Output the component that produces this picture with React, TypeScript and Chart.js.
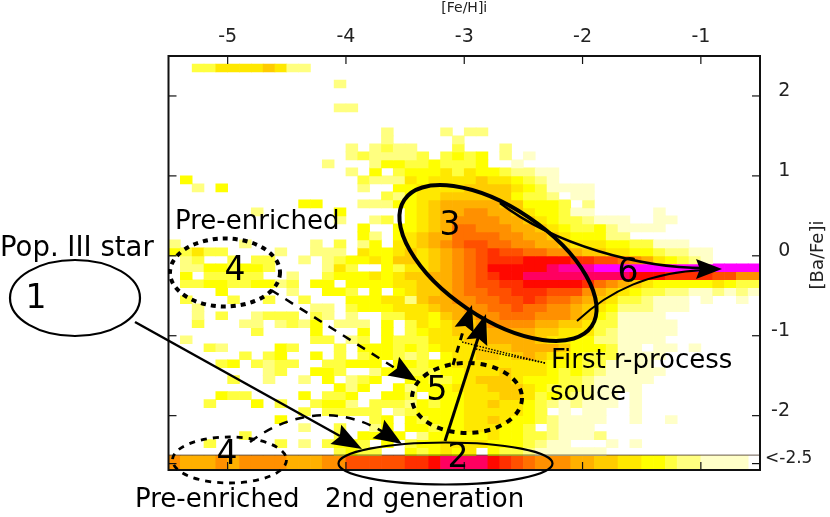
import React, { useEffect, useRef } from "react";
import { Chart, registerables } from "chart.js";

Chart.register(...registerables);

const FONT = '"DejaVu Sans", sans-serif';

// colour levels of the map, 0 = empty cell
const levelColors = ["#ffffff","#ffffc8","#ffff80","#ffff40","#ffff00","#ffe800","#ffcc00","#ffb000","#ff9000","#ff7000","#ff5000","#ff3000","#ff0800","#ff0060","#ff00a0","#ff00ff"];

const xTickValues = [-5, -4, -3, -2, -1];
const yTickValues = [-2.6, -2, -1, 0, 1, 2];
const yTickLabels: Record<string, string> = { "-2.6": "<-2.5", "-2": " -2", "-1": " -1", "0": "\u2002\u20090", "1": "\u2002\u20091", "2": "\u2002\u20092" };

const xBinStart = -5.5;
const binWidth = 0.1;
const yTop = 2.5;
const overflowBottom = -2.68;

// one string per 0.1 dex [Ba/Fe] row from +2.5 down, one hex level per 0.1 dex [Fe/H] column; last row is the "<-2.5" band
const heatRows = [
"0000000000 0000000000 0000000000 0000000000 0000000000",
"0033555565 2200000000 0000000000 0000000000 0000000000",
"0000000000 0000000000 0000000000 0000000000 0000000000",
"0000000000 0000200000 0000000000 0000000000 0000000000",
"0000000000 0000000000 0000000000 0000000000 0000000000",
"0000000000 0000000000 0000000000 0000000000 0000000000",
"0000000000 0000220000 0000000000 0000000000 0000000000",
"0000000000 0000000000 0000000000 0000000000 0000000000",
"0000000000 0000000000 0000000000 0000000000 0000000000",
"0000000000 0000000020 0002022000 0000000000 0000000000",
"0000000000 0000000020 0000200000 0000000000 0000000000",
"0000000000 0000020232 2000300020 0000000000 0000000000",
"0000000000 0000023222 2303434020 1000000000 0000000000",
"0000000000 0002000244 3343334001 0000000000 0000000000",
"0000000000 0000020403 4445354432 2110000000 0000000000",
"0400000000 0000003222 5455556554 3210000000 0000000000",
"0020400000 0000002004 4555566665 4311110000 0000000000",
"0000000000 0000000032 4556666664 3320110000 0000000000",
"0000000000 0440002224 4567777766 4443020000 0000000000",
"0000000200 0000400000 4567788776 5443110000 0100000000",
"0000000000 0000200230 4567888877 6543321110 0110000000",
"0000000000 0000004004 4567998887 7654334211 1100000000",
"0000000000 0000004204 5677999988 7765444220 0000000000",
"2000002000 0020302405 56789aa998 8776555443 3111000000",
"4353300002 0022205445 656789abaa 9988766554 4322110000",
"0230030330 0202344546 656789abbb ccccbbaa98 7543210000",
"0224434430 0002530043 556789accc ccdeeeffff ffffffffff",
"0403333300 2003444545 667789abcc dddddddddc ccbbbbaa88",
"0334433442 3044044445 566789aabb cccccb9876 5444445433",
"0000400000 2004430404 5667899aab bbaaa87654 3322112121",
"0300030030 0300044455 26778899aa ba99876533 2111010010",
"0020000000 0022034445 556778899a 9988765422 2111000000",
"0020300233 3032020033 5546778899 9888764311 1100000000",
"0030002202 3240222040 3545667888 8776653311 1110000000",
"0000000300 0040004040 3455666777 7665553211 1110000000",
"0200000000 0033023043 3355566777 7655442211 1100000000",
"0003200004 3000304443 4345556667 7776444311 0110100000",
"0000003034 0040303443 2304556656 7655433311 1100000000",
"0000340323 3003344404 4344555555 5544433111 1000000000",
"0000000023 0044300244 3334455565 5543432111 1100000000",
"0000030020 0204023400 4433456665 4443321111 1000000000",
"0000000000 0000424004 2444555666 5433321111 0000000000",
"0000433000 0403340044 3044455566 5343221101 0000000000",
"0003000403 0034420333 2434455655 4321211101 0000000000",
"0000000000 0303333302 3444455555 4301011001 0000000000",
"0000000004 0000000340 4344455654 4321111001 0010000000",
"0000000000 0200300240 4434455544 3021110000 0000000000",
"0000003000 0000304434 0244444544 3321112000 0000000000",
"0003000003 0203443040 3445555444 3211000101 0000000000",
"0000000000 0000343300 4345450433 2111111000 0000000000",
"8777878888 7778 8aaaaa bbcddddcba 9888776655 4432211110",
];

const round2 = (v: number) => Number(v.toFixed(2));

function buildDatasets() {
  return heatRows.map((row, r) => {
    const levels = row.replace(/ /g, "").split("").map((ch) => parseInt(ch, 16));
    const hi = round2(yTop - binWidth * r);
    const lo = r === heatRows.length - 1 ? overflowBottom : round2(hi - binWidth);
    const data: { x: number; y: [number, number] }[] = [];
    const colors: string[] = [];
    levels.forEach((lv, c) => {
      if (lv > 0) {
        data.push({ x: round2(xBinStart + binWidth * (c + 0.5)), y: [lo, hi] });
        colors.push(levelColors[lv]);
      }
    });
    return { label: `row ${r}`, data, backgroundColor: colors, grouped: false, barPercentage: 1, categoryPercentage: 1, borderWidth: 0 };
  });
}

type P = [number, number];

function ellipse(ctx: CanvasRenderingContext2D, cx: number, cy: number, rx: number, ry: number, rot: number, lw: number, dash: number[] = [], fill?: string) {
  ctx.beginPath();
  ctx.setLineDash(dash);
  ctx.lineWidth = lw;
  ctx.ellipse(cx, cy, rx, ry, rot, 0, Math.PI * 2);
  if (fill) {
    ctx.fillStyle = fill;
    ctx.fill();
  }
  ctx.stroke();
  ctx.setLineDash([]);
}

function seg(ctx: CanvasRenderingContext2D, a: P, b: P, lw: number, dash: number[] = []) {
  ctx.beginPath();
  ctx.setLineDash(dash);
  ctx.lineWidth = lw;
  ctx.moveTo(a[0], a[1]);
  ctx.lineTo(b[0], b[1]);
  ctx.stroke();
  ctx.setLineDash([]);
}

function curve(ctx: CanvasRenderingContext2D, a: P, c1: P, c2: P, b: P, lw: number, dash: number[] = []) {
  ctx.beginPath();
  ctx.setLineDash(dash);
  ctx.lineWidth = lw;
  ctx.moveTo(a[0], a[1]);
  ctx.bezierCurveTo(c1[0], c1[1], c2[0], c2[1], b[0], b[1]);
  ctx.stroke();
  ctx.setLineDash([]);
}

function head(ctx: CanvasRenderingContext2D, tip: P, from: P, len: number, half: number) {
  const dx = tip[0] - from[0];
  const dy = tip[1] - from[1];
  const d = Math.hypot(dx, dy);
  const ux = dx / d;
  const uy = dy / d;
  const bx = tip[0] - ux * len;
  const by = tip[1] - uy * len;
  const nx = tip[0] - ux * len * 0.85;
  const ny = tip[1] - uy * len * 0.85;
  ctx.beginPath();
  ctx.moveTo(tip[0], tip[1]);
  ctx.lineTo(bx - uy * half, by + ux * half);
  ctx.lineTo(nx, ny);
  ctx.lineTo(bx + uy * half, by - ux * half);
  ctx.closePath();
  ctx.fill();
}

const overlayPlugin = {
  id: "overlay",
  afterDatasetsDraw(chart: any) {
    const { ctx, chartArea: a, scales } = chart;
    ctx.save();
    // "<-2.5" band separator
    ctx.strokeStyle = "rgba(40,20,0,0.7)";
    ctx.lineWidth = 1;
    const bandY = scales.y.getPixelForValue(-2.5) - 0.5;
    ctx.beginPath();
    ctx.moveTo(a.left, bandY);
    ctx.lineTo(a.right, bandY);
    ctx.stroke();
    // inward ticks
    ctx.strokeStyle = "#111";
    xTickValues.forEach((v) => {
      const x = scales.x.getPixelForValue(v);
      seg(ctx, [x, a.top], [x, a.top + 8], 1.2);
      seg(ctx, [x, a.bottom], [x, a.bottom - 8], 1.2);
    });
    yTickValues.forEach((v) => {
      const y = scales.y.getPixelForValue(v);
      seg(ctx, [a.left, y], [a.left + 8, y], 1.2);
      seg(ctx, [a.right, y], [a.right - 8, y], 1.2);
    });
    // frame
    ctx.lineWidth = 2;
    ctx.strokeRect(a.left, a.top, a.right - a.left, a.bottom - a.top);

    // y axis title, reading upwards
    ctx.fillStyle = "#222";
    ctx.font = `18px ${FONT}`;
    ctx.textAlign = "center";
    ctx.textBaseline = "middle";
    ctx.save();
    ctx.translate(818, 255);
    ctx.rotate(-Math.PI / 2);
    ctx.fillText("[Ba/Fe]i", 0, 0);
    ctx.restore();

    // schematic call-outs
    ctx.strokeStyle = "#000";
    ctx.fillStyle = "#000";

    ellipse(ctx, 75, 298, 65, 38, 0, 2.2, [], "#fff");
    ellipse(ctx, 225, 272.5, 55, 34, 0, 4, [5, 5]);
    ellipse(ctx, 229.5, 460, 57, 23, 0, 2.8, [6, 6]);
    ellipse(ctx, 498, 263, 113, 55, (34 * Math.PI) / 180, 4);
    ellipse(ctx, 467, 398, 55, 35, 0, 4, [6, 6]);
    ellipse(ctx, 445.5, 463.5, 107, 21, 0, 2.2);

    ctx.fillStyle = "#000";
    // Pop III -> 2nd generation
    seg(ctx, [135, 322], [340, 436], 2.5);
    head(ctx, [362, 449], [135, 322], 30, 11);
    // Pre-enriched -> 5
    seg(ctx, [271, 290], [398, 370], 2.5, [9, 8]);
    head(ctx, [417, 381], [271, 290], 28, 11);
    // Pre-enriched (low) -> 2nd generation
    curve(ctx, [250, 442], [295, 408], [345, 408], [385, 433], 2.5, [9, 8]);
    head(ctx, [402, 444], [372, 425], 28, 11);
    // 2nd generation -> 3
    seg(ctx, [445, 441], [479, 335], 3);
    head(ctx, [486, 314], [445, 441], 30, 11);
    // 5 -> 3
    seg(ctx, [453, 365], [464, 328], 3, [7, 6]);
    head(ctx, [472, 305], [453, 365], 26, 10);
    // first r-process source leaders
    seg(ctx, [545, 363], [462, 342], 1.4, [1.5, 1.5]);
    seg(ctx, [545, 363], [476, 349], 1.4, [1.5, 1.5]);
    // flows into 6
    curve(ctx, [500, 203], [555, 245], [640, 268], [705, 268], 2.5);
    curve(ctx, [577, 321], [610, 290], [650, 272], [705, 270], 2);
    head(ctx, [722, 269], [695, 269], 26, 10);

    // labels
    ctx.textAlign = "left";
    ctx.textBaseline = "middle";
    ctx.font = `26px ${FONT}`;
    ctx.fillText("Pre-enriched", 175, 222);
    ctx.fillText("Pre-enriched", 135, 500);
    ctx.fillText("2nd generation", 325, 500);
    ctx.fillText("First r-process", 551, 361);
    ctx.fillText("souce", 550, 393);
    ctx.font = `27.5px ${FONT}`;
    ctx.fillText("Pop. III star", 0, 249);
    ctx.font = `33px ${FONT}`;
    ctx.textAlign = "center";
    ctx.fillText("1", 36, 299);
    ctx.fillText("4", 235, 271);
    ctx.fillText("4", 227, 455);
    ctx.fillText("3", 450, 226);
    ctx.fillText("5", 437, 391);
    ctx.fillText("2", 458, 458);
    ctx.fillText("6", 628, 273);
    ctx.restore();
  },
};

export default function App() {
  const ref = useRef<HTMLCanvasElement | null>(null);
  useEffect(() => {
    if (!ref.current) return;
    const chart = new Chart(ref.current, {
      type: "bar",
      data: { datasets: buildDatasets() as any },
      options: {
        responsive: false,
        animation: false,
        layout: { padding: { left: 168.5, bottom: 47, top: 0, right: 0 } },
        plugins: { legend: { display: false }, tooltip: { enabled: false } },
        scales: {
          x: {
            type: "linear",
            position: "top",
            offset: false,
            min: -5.5,
            max: -0.5,
            grid: { display: false, drawTicks: false },
            border: { display: false },
            afterBuildTicks: (s: any) => {
              s.ticks = xTickValues.map((value) => ({ value }));
            },
            afterFit: (s: any) => {
              s.height = 56;
            },
            title: { display: true, text: "[Fe/H]i", color: "#222", font: { family: FONT, size: 14 }, padding: { top: 0, bottom: 0 } },
            ticks: {
              autoSkip: false,
              maxRotation: 0,
              padding: 8,
              color: "#222",
              font: { family: FONT, size: 19 },
              callback: (v: any) => String(v),
            },
          },
          y: {
            type: "linear",
            position: "right",
            min: overflowBottom,
            max: yTop,
            grid: { display: false, drawTicks: false },
            border: { display: false },
            afterBuildTicks: (s: any) => {
              s.ticks = yTickValues.map((value) => ({ value }));
            },
            afterFit: (s: any) => {
              s.width = 70;
            },
            ticks: {
              autoSkip: false,
              padding: 5,
              labelOffset: -5,
              color: "#222",
              font: (c: any) => ({ family: FONT, size: c.tick && c.tick.value === -2.6 ? 17 : 19 }),
              callback: (v: any) => yTickLabels[String(v)] ?? String(v),
            },
          },
        },
      },
      plugins: [overlayPlugin],
    } as any);
    return () => chart.destroy();
  }, []);
  return (
    <div style={{ position: "absolute", left: 0, top: 0, width: 830, height: 517, background: "#fff" }}>
      <canvas ref={ref} width={830} height={517} style={{ display: "block" }} />
    </div>
  );
}
